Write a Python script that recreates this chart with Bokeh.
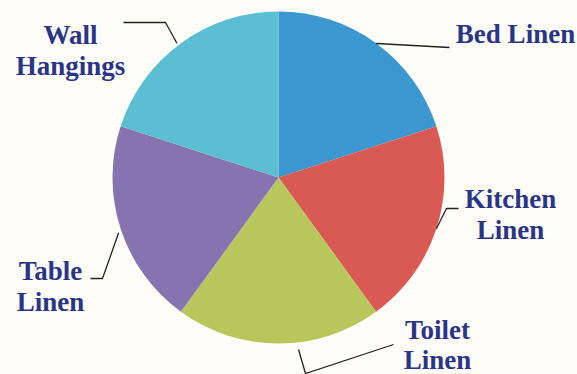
import math
from bokeh.plotting import figure
from bokeh.models import ColumnDataSource, Range1d
from bokeh.core.properties import value
from bokeh.embed import file_html
from bokeh.resources import INLINE

# ---- data ----
categories = ["Bed Linen", "Kitchen Linen", "Toilet Linen", "Table Linen", "Wall Hangings"]
shares = [20, 20, 20, 20, 20]
label_lines = [["Bed Linen"], ["Kitchen", "Linen"], ["Toilet", "Linen"], ["Table", "Linen"], ["Wall", "Hangings"]]

# ---- styles / layout (pixel space, y measured downwards) ----
colors = ["#3b97cf", "#d95a55", "#b8c75c", "#8673b0", "#5bbed2"]
W, H = 577, 374
cx_px, cy_px, R = 278, 177, 166
label_anchor = [(515, 33), (510, 198), (437, 329), (50, 270), (70, 34)]  # first-line baseline centre
line_gaps = [31, 31, 30, 31, 31]
# leader: start offset from edge point at mid angle, elbow, end
leader_start_off = [(0, 0), (0, 0), (20, 6), (-2, 4), (-4, 0)]
leader_elbow = [(376, 43), (446, 208), (305, 373), (102, 278), (165, 22)]
leader_end = [(449, 47), (458, 208), (393, 344), (90, 278), (123, 22)]

def Y(py):
    return H - py

p = figure(width=W, height=H, output_backend="svg", toolbar_location=None,
           x_range=Range1d(0, W), y_range=Range1d(0, H), min_border=0)
p.axis.visible = False
p.grid.visible = False
p.outline_line_color = None
p.background_fill_color = "#fefdf7"
p.border_fill_color = "#fefdf7"

total = sum(shares)
starts, ends, mids = [], [], []
acc = 0
for s in shares:
    a0 = math.pi / 2 - 2 * math.pi * acc / total
    acc += s
    a1 = math.pi / 2 - 2 * math.pi * acc / total
    starts.append(a1)
    ends.append(a0)
    mids.append((a0 + a1) / 2)

src = ColumnDataSource(dict(x=[cx_px] * len(shares), y=[Y(cy_px)] * len(shares),
                            start=starts, end=ends, color=colors, cat=categories))
p.wedge(x="x", y="y", radius=R, start_angle="start", end_angle="end",
        direction="anticlock", fill_color="color", line_color=None, source=src)

# leader lines
xs, ys = [], []
for i, m in enumerate(mids):
    ex = cx_px + R * math.cos(m) + leader_start_off[i][0]
    ey = cy_px - R * math.sin(m) + leader_start_off[i][1]
    xs.append([ex, leader_elbow[i][0], leader_end[i][0]])
    ys.append([Y(ey), Y(leader_elbow[i][1]), Y(leader_end[i][1])])
p.multi_line(xs=xs, ys=ys, line_color="#222222", line_width=1.3)

# labels
tx, ty, tt = [], [], []
for i, lines in enumerate(label_lines):
    for j, t in enumerate(lines):
        tx.append(label_anchor[i][0])
        ty.append(Y(label_anchor[i][1] + j * line_gaps[i]))
        tt.append(t)
p.text(x=tx, y=ty, text=tt, text_align="center", text_baseline="alphabetic",
       text_font=value("Liberation Serif"), text_font_style="bold",
       text_font_size="27px", text_color="#2b3585")

open("out.html", "w").write(file_html(p, INLINE))
